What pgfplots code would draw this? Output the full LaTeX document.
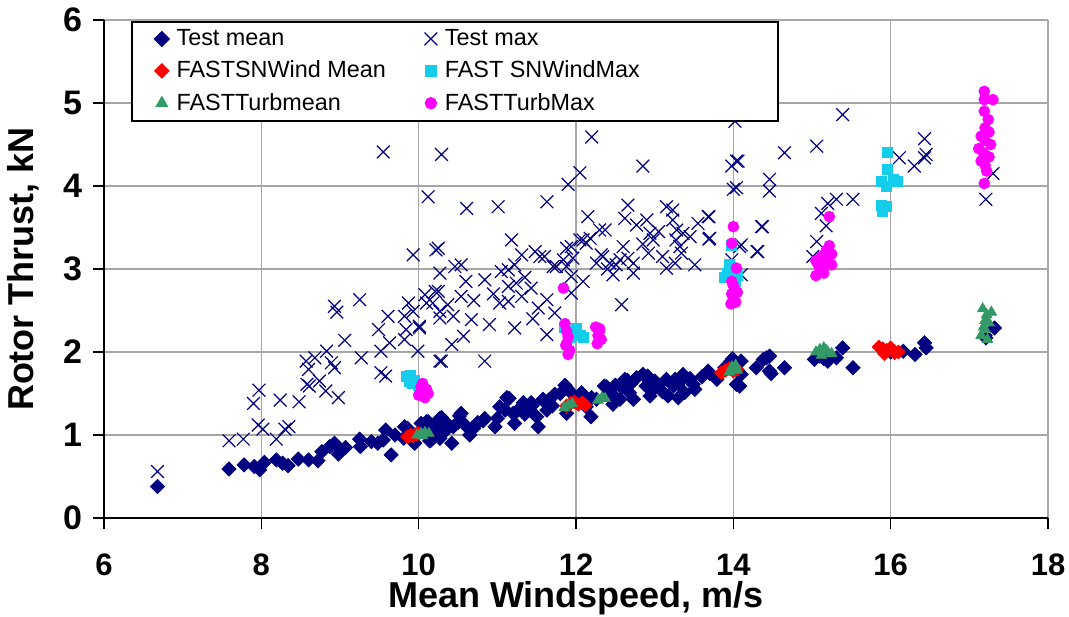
\documentclass[border=0pt]{standalone}
\usepackage{fontspec}
\setmainfont{Liberation Sans}
\usepackage{pgfplots}
\pgfplotsset{compat=1.18}
\definecolor{navy}{RGB}{0,0,128}
\definecolor{fred}{RGB}{255,0,0}
\definecolor{fcyan}{RGB}{20,205,235}
\definecolor{fgreen}{RGB}{51,153,102}
\definecolor{fmag}{RGB}{255,0,255}
\begin{document}
\begin{tikzpicture}
\begin{axis}[
  scale only axis, width=472pt, height=249pt,
  xmin=6, xmax=18, ymin=0, ymax=6,
  xtick={6,8,...,18}, ytick={0,1,...,6},
  axis lines=left, axis line style={-, black, line width=0.8pt},
  grid=major, grid style={gray!70, line width=0.6pt},
  tick align=outside, major tick length=5.5pt,
  tick style={black, line width=0.6pt},
  /pgf/number format/assume math mode=true,
  yticklabel style={font=\fontsize{17}{17}\selectfont\bfseries, xshift=-2pt},
  xticklabel style={font=\fontsize{15.5}{15.5}\selectfont\bfseries, yshift=-9pt},
  xlabel={Mean Windspeed, m/s},
  xlabel style={font=\fontsize{18}{18}\selectfont\bfseries, at={(axis description cs:0.5,-0.1614)}, anchor=center},
  ylabel={Rotor Thrust, kN},
  ylabel style={font=\fontsize{18}{18}\selectfont\bfseries, at={(axis description cs:-0.0858,0.5)}, anchor=center},
  legend columns=2,
  legend cell align=left,
  legend style={at={(axis description cs:0.0286,0.998)}, anchor=north west,
    draw=black, line width=0.8pt, fill=white,
    font=\fontsize{11.7}{14}\selectfont,
    inner xsep=11.5pt, inner ysep=1.8pt, row sep=2.2pt,
    /tikz/every odd column/.append style={column sep=1.8pt},
    /tikz/every even column/.append style={column sep=12pt}},
  legend image code/.code={\draw[#1] plot coordinates {(0pt,0pt)};},
]
% Test mean
\addplot[only marks, mark=square*, mark size=2.5pt, mark options={rotate=45, fill=navy, draw=navy}] coordinates {
(6.68,0.38)(7.59,0.59)(7.78,0.64)(7.91,0.62)(7.98,0.58)(8.04,0.67)(8.19,0.70)(8.27,0.66)(8.34,0.63)(8.47,0.71)
(8.60,0.70)(8.72,0.69)(8.77,0.80)(8.87,0.86)(8.93,0.90)(8.98,0.77)(9.07,0.85)(9.25,0.95)(9.26,0.86)(9.48,0.90)
(9.55,0.94)(9.58,1.06)(9.65,0.76)(9.81,0.96)(9.82,1.10)(9.86,1.08)(9.93,0.92)(9.95,0.90)(10.03,1.14)(10.10,1.16)
(10.08,1.10)(10.12,1.16)(10.14,0.93)(10.16,0.94)(10.27,1.20)(10.25,1.18)(10.29,1.21)(10.31,1.06)(10.33,1.04)(10.27,0.96)
(10.42,0.90)(10.44,1.10)(10.54,1.26)(10.52,1.23)(10.59,1.12)(10.65,1.00)(10.84,1.20)(10.82,1.17)(10.97,1.10)(11.03,1.34)
(11.12,1.45)(11.15,1.44)(11.20,1.26)(11.25,1.29)(11.22,1.14)(11.33,1.39)(11.43,1.39)(11.45,1.36)(11.50,1.22)(11.52,1.10)
(11.58,1.43)(11.60,1.40)(11.63,1.30)(11.73,1.49)(11.88,1.57)(11.86,1.60)(11.88,1.26)(11.96,1.49)(12.07,1.51)(12.13,1.34)
(12.19,1.22)(12.26,1.43)(12.36,1.59)(12.39,1.58)(12.47,1.37)(12.56,1.43)(12.58,1.57)(12.62,1.67)(12.65,1.66)(12.68,1.51)
(12.73,1.43)(12.77,1.69)(12.85,1.73)(12.89,1.59)(12.91,1.71)(12.94,1.47)(12.98,1.55)(13.00,1.65)(13.15,1.67)(13.17,1.47)
(13.24,1.59)(13.26,1.67)(13.30,1.45)(13.36,1.73)(13.38,1.70)(13.38,1.51)(13.49,1.61)(13.51,1.55)(13.68,1.77)(13.70,1.74)
(13.79,1.67)(13.89,1.81)(13.97,1.89)(13.99,1.92)(14.04,1.61)(14.08,1.59)(14.10,1.73)(14.10,1.89)(14.29,1.81)(14.38,1.91)
(14.42,1.93)(14.46,1.95)(14.46,1.77)(14.48,1.74)(14.65,1.81)(15.03,1.91)(15.20,1.89)(15.31,1.93)(15.39,2.05)(15.52,1.81)
(16.16,2.01)(16.31,1.97)(16.43,2.11)(16.45,2.05)(17.21,2.17)(17.32,2.29)
(10.20,1.05)(10.50,1.15)(10.70,1.08)(11.00,1.20)(11.10,1.30)(11.35,1.25)(11.65,1.42)(11.80,1.50)(12.20,1.45)(12.45,1.50)
(12.50,1.60)(12.70,1.62)(13.05,1.60)(13.10,1.52)(13.30,1.62)(13.45,1.68)(13.60,1.70)(14.00,1.85)(14.05,1.78)(15.10,1.95)
(15.15,1.92)(16.00,2.00)(17.20,2.20)(9.40,0.92)(9.70,1.00)(10.38,1.12)(10.75,1.15)(11.40,1.30)(11.70,1.35)(12.00,1.40)
};
\addlegendentry{\makebox[110pt][l]{Test mean}}
% Test max
\addplot[only marks, mark=x, mark size=4.5pt, mark options={draw=navy, line width=0.6pt}] coordinates {
(6.68,0.56)(7.59,0.93)(7.77,0.95)(7.97,1.54)(7.90,1.38)(7.96,1.12)(8.02,1.07)(8.24,1.42)(8.19,0.95)(8.30,1.07)
(8.35,1.10)(8.48,1.40)(8.57,1.89)(8.60,1.79)(8.58,1.61)(8.61,1.59)(8.74,1.65)(8.82,1.53)(8.98,1.45)(8.68,1.93)
(8.83,2.01)(8.89,1.87)(8.93,1.81)(8.93,2.55)(8.96,2.48)(9.06,2.14)(9.25,2.63)(9.27,1.93)(9.52,2.01)(9.49,2.27)
(9.61,2.43)(9.63,2.11)(9.52,1.75)(9.58,1.71)(9.55,4.41)(9.93,3.17)(9.87,2.59)(9.93,2.49)(9.82,2.43)(9.84,2.27)
(9.82,2.15)(10.01,2.29)(9.99,2.01)(10.10,2.59)(10.27,2.95)(10.25,2.73)(10.27,1.89)(10.27,2.41)(10.22,3.23)(10.29,4.38)
(12.20,4.59)(12.05,4.16)(11.90,4.02)(12.85,4.24)(14.02,4.78)(13.98,4.24)(14.06,4.30)(14.00,3.96)(14.04,3.98)(10.12,3.87)
(10.61,3.73)(11.01,3.75)(11.63,3.81)(12.15,3.63)(12.66,3.77)(12.62,3.61)(13.15,3.75)(13.23,3.71)(13.68,3.63)(14.36,3.51)
(10.25,3.25)(11.18,3.35)(12.77,3.53)(12.90,3.59)(12.94,3.43)(12.98,3.35)(13.23,3.59)(13.28,3.47)(13.36,3.43)(13.45,3.39)
(13.70,3.37)(14.31,3.21)(14.10,3.29)(12.37,3.47)(12.18,3.37)(12.05,3.35)(12.13,3.31)(11.88,3.25)(11.48,3.21)(11.31,3.17)
(11.22,3.05)(11.60,3.15)(11.71,3.03)(11.84,3.11)(11.96,3.13)(12.32,3.17)(12.56,3.11)(12.66,3.13)(12.73,3.07)(12.60,3.27)
(12.92,3.19)(13.34,3.19)(13.26,3.07)(13.51,3.05)(13.15,3.01)(10.46,3.03)(10.54,3.05)(10.84,2.87)(11.05,2.97)(11.14,2.99)
(11.24,2.83)(11.54,3.15)(11.75,3.03)(11.88,3.03)(11.94,2.91)(12.09,2.85)(12.26,3.07)(12.51,3.05)(12.47,2.93)(12.73,2.95)
(10.08,2.69)(10.21,2.73)(10.27,2.49)(10.37,2.57)(10.44,2.43)(10.54,2.67)(10.57,2.19)(10.42,2.09)(10.67,2.39)(10.90,2.33)
(11.03,2.59)(11.14,2.79)(11.14,2.61)(11.22,2.29)(11.31,2.67)(11.43,2.77)(11.52,2.53)(11.63,2.63)(11.73,2.47)(11.63,2.21)
(11.94,2.71)(12.58,2.57)(10.29,1.89)(10.84,1.89)(10.18,2.59)(10.01,2.31)(12.09,3.35)(11.94,3.27)(12.30,3.47)(12.34,3.15)
(12.43,3.07)(13.27,3.35)(13.32,3.27)(15.39,4.86)(15.06,4.48)(14.65,4.40)(14.04,4.30)(14.46,4.08)(14.46,3.94)(16.43,4.57)
(16.11,4.34)(16.30,4.24)(16.43,4.34)(16.45,4.38)(17.30,4.15)(17.21,3.84)(13.69,3.63)(13.69,3.36)(14.37,3.51)(14.08,3.27)
(14.30,3.21)(13.98,3.11)(14.10,2.93)(15.12,3.67)(15.20,3.79)(15.31,3.84)(15.52,3.84)(15.18,3.52)(15.06,3.33)(15.01,3.15)
(10.70,2.62)(10.95,2.70)(11.35,2.90)(12.40,3.00)(12.85,3.30)(13.05,3.45)(13.10,3.15)(13.55,3.55)(10.60,2.85)(11.45,2.40)
};
\addlegendentry{\makebox[153pt][l]{Test max}}
% FASTSNWind Mean
\addplot[only marks, mark=square*, mark size=2.4pt, mark options={rotate=45, fill=fred, draw=fred}] coordinates {
(9.86,0.98)(9.90,1.00)(9.93,0.99)(9.97,1.01)(10.00,1.02)
(11.88,1.35)(11.93,1.38)(11.98,1.40)(12.03,1.37)(12.08,1.39)(12.12,1.36)
(13.85,1.75)(13.90,1.78)(13.95,1.80)(14.00,1.77)(14.05,1.79)
(15.85,2.06)(15.90,2.04)(15.95,2.02)(16.00,2.05)(16.05,1.99)(16.10,2.00)(15.92,1.98)
};
\addlegendentry{\makebox[110pt][l]{FASTSNWind Mean}}
% FAST SNWindMax
\addplot[only marks, mark=square*, mark size=2.5pt, mark options={fill=fcyan, draw=fcyan}] coordinates {
(9.85,1.70)(9.88,1.65)(9.92,1.62)(9.95,1.66)(10.00,1.60)(9.90,1.72)
(11.85,2.30)(11.90,2.25)(11.95,2.22)(12.00,2.28)(12.05,2.20)(12.10,2.18)(11.92,2.17)
(13.88,2.90)(13.92,2.95)(13.95,3.05)(14.00,2.88)(14.05,2.92)(13.98,3.28)(14.02,2.85)
(15.96,4.40)(15.96,4.20)(15.88,4.06)(16.03,4.08)(16.09,4.06)(15.94,4.00)(15.88,3.77)(15.95,3.76)(15.90,3.69)
};
\addlegendentry{\makebox[153pt][l]{FAST SNWindMax}}
% FASTTurbmean
\addplot[only marks, mark=triangle*, mark size=3pt, mark options={fill=fgreen, draw=fgreen}] coordinates {
(9.98,1.00)(10.03,1.02)(10.08,1.03)(10.13,1.02)(10.05,0.99)
(11.85,1.33)(11.90,1.36)(11.95,1.38)
(12.28,1.42)(12.33,1.45)(12.37,1.44)
(13.95,1.76)(14.00,1.80)(14.03,1.84)(14.05,1.78)(13.98,1.82)
(15.05,2.00)(15.10,2.03)(15.15,2.05)(15.20,2.00)(15.25,1.98)(15.12,1.96)(15.18,2.02)
(17.15,2.20)(17.18,2.30)(17.20,2.38)(17.22,2.45)(17.17,2.52)(17.28,2.48)(17.25,2.35)(17.20,2.27)(17.23,2.15)
};
\addlegendentry{\makebox[110pt][l]{FASTTurbmean}}
% FASTTurbMax
\addplot[only marks, mark=*, mark size=2.7pt, mark options={fill=fmag, draw=fmag}] coordinates {
(10.00,1.48)(10.05,1.52)(10.10,1.55)(10.03,1.58)(10.08,1.45)(10.12,1.50)(10.05,1.62)
(11.84,2.77)(11.86,2.34)(11.88,2.25)(11.90,2.18)(11.88,2.10)(11.92,2.02)(11.90,1.97)(11.87,2.08)
(12.25,2.30)(12.30,2.28)(12.28,2.20)(12.32,2.15)(12.27,2.10)(12.30,2.25)
(14.00,3.51)(13.98,3.31)(14.04,3.01)(13.98,2.85)(14.00,2.80)(14.02,2.75)(13.98,2.70)(14.00,2.65)(14.03,2.60)(13.97,2.58)(14.05,2.72)
(15.22,3.63)(15.05,2.92)(15.10,2.98)(15.15,3.02)(15.20,3.10)(15.25,3.18)(15.08,3.05)(15.12,3.15)(15.18,3.22)(15.22,3.28)(15.25,3.05)(15.05,3.10)(15.15,2.95)
(17.19,5.14)(17.30,5.04)(17.19,5.04)(17.19,4.90)(17.24,4.80)(17.20,4.70)(17.25,4.65)(17.15,4.60)(17.20,4.55)(17.27,4.50)(17.12,4.45)(17.18,4.40)(17.25,4.35)(17.15,4.30)(17.20,4.25)(17.22,4.18)(17.19,4.03)
};
\addlegendentry{\makebox[153pt][l]{FASTTurbMax}}
\end{axis}
\pgfresetboundingbox
\path ([shift={(-52pt,-49.5pt)}]current axis.south west) rectangle ([shift={(10.5pt,10pt)}]current axis.north east);
\end{tikzpicture}
\end{document}
